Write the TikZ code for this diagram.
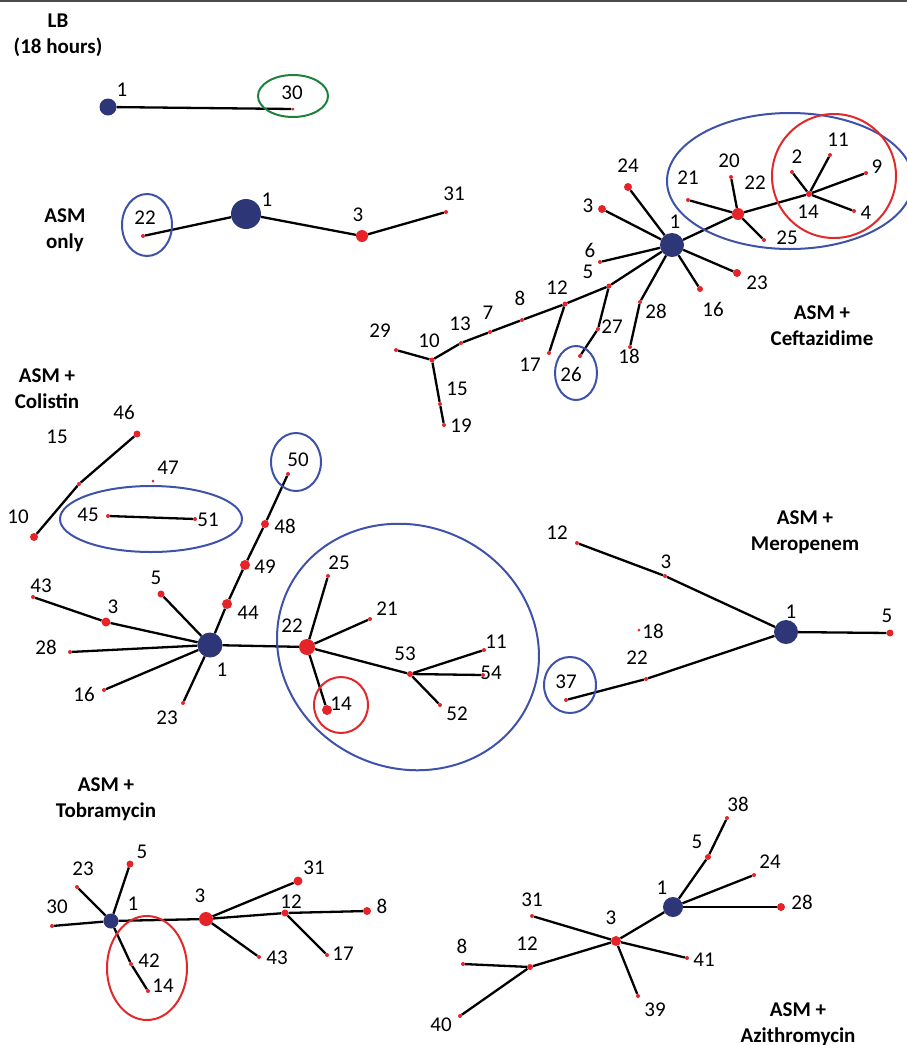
\documentclass[tikz,border=0pt]{standalone}
\usepackage{fontspec}
\setmainfont{Carlito}
\usepackage{tikz}
\usetikzlibrary{calc}

\definecolor{hubblue}{RGB}{45,55,120}
\definecolor{dotred}{RGB}{230,35,40}
\definecolor{ringblue}{RGB}{62,82,170}
\definecolor{ringred}{RGB}{225,40,42}
\definecolor{ringgreen}{RGB}{30,130,60}

\tikzset{
  hub/.style={circle, fill=hubblue, inner sep=0pt, minimum size=#1},
  hub/.default=20pt,
  rdot/.style={circle, fill=dotred, inner sep=0pt, minimum size=#1},
  rdot/.default=4pt,
  num/.style={inner sep=0pt, font=\fontsize{21}{23}\selectfont},
  ttl/.style={inner sep=0pt, align=center, font=\bfseries\fontsize{21}{26}\selectfont},
  link/.style={line width=2.3pt, black},
  ring/.style={line width=2pt}
}

\begin{document}
\begin{tikzpicture}[x=1pt, y=-1pt]
\useasboundingbox (0,0) rectangle (907,1045);
\draw[black!70, line width=2pt] (0,1) -- (907,1);

% LB
\node[ttl] (ttlLB) at (58,35) {LB\\(18 hours)};
\node[hub=17pt] (lb1) at (108,107) {};
\node[rdot=3pt] (lb30) at (293,109) {};
\node[num] (lb1t) at (122,90) {1};
\node[num] (lb30t) at (292,93) {30};
\draw[link] (lb1) -- (lb30);
\draw[ring, ringgreen] (293,96) ellipse [x radius=35pt, y radius=21pt];

% ASM only
\node[ttl] (ttlA) at (65,230) {ASM\\only};
\node[hub=30pt] (a1) at (246,214) {};
\node[rdot] (a22) at (143,236) {};
\node[rdot=12pt] (a3) at (362,236) {};
\node[rdot] (a31) at (446,212) {};
\node[num] (a1t) at (267,200) {1};
\node[num] (a22t) at (145,218) {22};
\node[num] (a3t) at (358,215) {3};
\node[num] (a31t) at (454,194) {31};
\draw[link] (a22) -- (a1);
\draw[link] (a1) -- (a3);
\draw[link] (a3) -- (a31);
\draw[ring, ringblue] (147,225) ellipse [x radius=25pt, y radius=31pt];

% ASM + Ceftazidime
\node[ttl] (ttlC) at (822,326) {ASM +\\Ceftazidime};
\node[hub=24pt] (c1) at (672,245) {};
\node[rdot=8pt] (c24) at (628,187) {};
\node[rdot=8pt] (c3) at (602,209) {};
\node[rdot] (c6) at (600,262) {};
\node[rdot=5pt] (c5) at (609,286) {};
\node[rdot=5pt] (c12) at (565,304) {};
\node[rdot] (c8) at (522,320) {};
\node[rdot] (c7) at (490,332) {};
\node[rdot] (c13) at (461,343) {};
\node[rdot=5pt] (c10) at (432,360) {};
\node[rdot] (c29) at (396,350) {};
\node[rdot] (c15) at (440,404) {};
\node[rdot] (c19) at (444,425) {};
\node[rdot] (c17) at (549,353) {};
\node[rdot] (c27) at (598,329) {};
\node[rdot] (c26) at (580,356) {};
\node[rdot] (c28) at (640,302) {};
\node[rdot] (c18) at (630,347) {};
\node[rdot=6pt] (c16) at (700,289) {};
\node[rdot=8pt] (c23) at (737,273) {};
\node[rdot=12pt] (c22) at (738,214) {};
\node[rdot] (c21) at (688,200) {};
\node[rdot] (c20) at (731,177) {};
\node[rdot] (c25) at (764,240) {};
\node[rdot=6pt] (c14) at (809,194) {};
\node[rdot] (c2) at (792,172) {};
\node[rdot] (c11) at (830,155) {};
\node[rdot] (c9) at (866,173) {};
\node[rdot] (c4) at (854,211) {};
\node[num] (c1t) at (675,222) {1};
\node[num] (c24t) at (628,166) {24};
\node[num] (c3t) at (588,206) {3};
\node[num] (c6t) at (590,250) {6};
\node[num] (c5t) at (588,272) {5};
\node[num] (c12t) at (557,288) {12};
\node[num] (c8t) at (520,298) {8};
\node[num] (c7t) at (488,313) {7};
\node[num] (c13t) at (460,324) {13};
\node[num] (c10t) at (429,341) {10};
\node[num] (c29t) at (380,331) {29};
\node[num] (c15t) at (457,389) {15};
\node[num] (c19t) at (461,426) {19};
\node[num] (c17t) at (530,365) {17};
\node[num] (c27t) at (612,327) {27};
\node[num] (c26t) at (571,374) {26};
\node[num] (c28t) at (656,311) {28};
\node[num] (c18t) at (629,356) {18};
\node[num] (c16t) at (713,309) {16};
\node[num] (c23t) at (757,283) {23};
\node[num] (c22t) at (755,183) {22};
\node[num] (c21t) at (688,178) {21};
\node[num] (c20t) at (729,161) {20};
\node[num] (c25t) at (787,238) {25};
\node[num] (c14t) at (808,212) {14};
\node[num] (c2t) at (797,157) {2};
\node[num] (c11t) at (838,140) {11};
\node[num] (c9t) at (877,167) {9};
\node[num] (c4t) at (866,213) {4};
\draw[link] (c1) -- (c24);
\draw[link] (c1) -- (c3);
\draw[link] (c1) -- (c6);
\draw[link] (c1) -- (c5);
\draw[link] (c5) -- (c12) -- (c8) -- (c7) -- (c13) -- (c10);
\draw[link] (c10) -- (c29);
\draw[link] (c10) -- (c15) -- (c19);
\draw[link] (c12) -- (c17);
\draw[link] (c5) -- (c27) -- (c26);
\draw[link] (c1) -- (c28) -- (c18);
\draw[link] (c1) -- (c16);
\draw[link] (c1) -- (c23);
\draw[link] (c1) -- (c22);
\draw[link] (c22) -- (c21);
\draw[link] (c22) -- (c20);
\draw[link] (c22) -- (c25);
\draw[link] (c22) -- (c14);
\draw[link] (c14) -- (c2);
\draw[link] (c14) -- (c11);
\draw[link] (c14) -- (c9);
\draw[link] (c14) -- (c4);
\draw[ring, ringblue] (790,181) ellipse [x radius=123pt, y radius=68pt];
\draw[ring, ringred] (834,176) ellipse [x radius=62pt, y radius=62pt];
\draw[ring, ringblue] (576,373) ellipse [x radius=21pt, y radius=27pt];

% ASM + Colistin
\node[ttl] (ttlK) at (47,389) {ASM +\\Colistin};
\node[hub=25pt] (k1) at (210,645) {};
\node[rdot=7pt] (k46) at (137,434) {};
\node[rdot] (k15) at (79,484) {};
\node[rdot=8pt] (k10) at (34,537) {};
\node[rdot=3pt] (k47) at (153,481) {};
\node[rdot] (k45) at (108,516) {};
\node[rdot] (k51) at (195,519) {};
\node[rdot] (k50) at (288,474) {};
\node[rdot=8pt] (k48) at (265,524) {};
\node[rdot=10pt] (k49) at (245,565) {};
\node[rdot=10pt] (k44) at (227,604) {};
\node[rdot=7pt] (k5) at (161,594) {};
\node[rdot] (k43) at (33,597) {};
\node[rdot=9pt] (k3) at (106,622) {};
\node[rdot] (k28) at (70,652) {};
\node[rdot] (k16) at (104,690) {};
\node[rdot] (k23) at (183,703) {};
\node[rdot=16pt] (k22) at (307,647) {};
\node[rdot] (k25) at (328,576) {};
\node[rdot] (k21) at (370,619) {};
\node[rdot=6pt] (k53) at (410,674) {};
\node[rdot] (k11) at (484,650) {};
\node[rdot] (k54) at (483,675) {};
\node[rdot] (k52) at (440,705) {};
\node[rdot=10pt] (k14) at (327,710) {};
\node[num] (k1t) at (222,670) {1};
\node[num] (k46t) at (124,412) {46};
\node[num] (k15t) at (57,437) {15};
\node[num] (k10t) at (18,517) {10};
\node[num] (k47t) at (168,468) {47};
\node[num] (k45t) at (88,515) {45};
\node[num] (k51t) at (208,520) {51};
\node[num] (k50t) at (298,460) {50};
\node[num] (k48t) at (285,526) {48};
\node[num] (k49t) at (265,567) {49};
\node[num] (k44t) at (248,613) {44};
\node[num] (k5t) at (156,578) {5};
\node[num] (k43t) at (41,586) {43};
\node[num] (k3t) at (113,607) {3};
\node[num] (k28t) at (46,647) {28};
\node[num] (k16t) at (84,694) {16};
\node[num] (k23t) at (167,718) {23};
\node[num] (k22t) at (292,626) {22};
\node[num] (k25t) at (339,563) {25};
\node[num] (k21t) at (387,609) {21};
\node[num] (k53t) at (405,654) {53};
\node[num] (k11t) at (496,642) {11};
\node[num] (k54t) at (491,673) {54};
\node[num] (k52t) at (457,714) {52};
\node[num] (k14t) at (341,704) {14};
\draw[link] (k46) -- (k15) -- (k10);
\draw[link] (k45) -- (k51);
\draw[link] (k1) -- (k44) -- (k49) -- (k48) -- (k50);
\draw[link] (k1) -- (k5);
\draw[link] (k1) -- (k3) -- (k43);
\draw[link] (k1) -- (k28);
\draw[link] (k1) -- (k16);
\draw[link] (k1) -- (k23);
\draw[link] (k1) -- (k22);
\draw[link] (k22) -- (k25);
\draw[link] (k22) -- (k21);
\draw[link] (k22) -- (k53);
\draw[link] (k53) -- (k11);
\draw[link] (k53) -- (k54);
\draw[link] (k53) -- (k52);
\draw[link] (k22) -- (k14);
\draw[ring, ringblue] (151,519) ellipse [x radius=91pt, y radius=33pt];
\draw[ring, ringblue] (296,462) ellipse [x radius=25pt, y radius=29pt];
\draw[ring, ringblue, rotate around={-25:(408,647)}] (408,647) ellipse [x radius=133pt, y radius=121pt];
\draw[ring, ringred] (341,705) ellipse [x radius=27pt, y radius=28pt];

% ASM + Meropenem
\node[ttl] (ttlM) at (805,532) {ASM +\\Meropenem};
\node[hub=24pt] (m1) at (786,632) {};
\node[rdot=7pt] (m5) at (890,633) {};
\node[rdot] (m3) at (665,576) {};
\node[rdot] (m12) at (577,543) {};
\node[rdot=3pt] (m18) at (639,630) {};
\node[rdot] (m22) at (646,679) {};
\node[rdot] (m37) at (566,700) {};
\node[num] (m1t) at (791,612) {1};
\node[num] (m5t) at (887,616) {5};
\node[num] (m3t) at (666,562) {3};
\node[num] (m12t) at (557,533) {12};
\node[num] (m18t) at (653,631) {18};
\node[num] (m22t) at (637,658) {22};
\node[num] (m37t) at (566,682) {37};
\draw[link] (m12) -- (m3) -- (m1);
\draw[link] (m1) -- (m5);
\draw[link] (m37) -- (m22) -- (m1);
\draw[ring, ringblue] (570,685) ellipse [x radius=26pt, y radius=28pt];

% ASM + Tobramycin
\node[ttl] (ttlT) at (106,799) {ASM +\\Tobramycin};
\node[hub=15pt] (t1) at (111,921) {};
\node[rdot=7pt] (t5) at (130,864) {};
\node[rdot] (t23) at (77,887) {};
\node[rdot] (t30) at (52,926) {};
\node[rdot] (t42) at (131,964) {};
\node[rdot] (t14) at (148,991) {};
\node[rdot=14pt] (t3) at (206,919) {};
\node[rdot=9pt] (t31) at (298,881) {};
\node[rdot=7pt] (t12) at (285,913) {};
\node[rdot=8pt] (t8) at (367,911) {};
\node[rdot] (t43) at (259,957) {};
\node[rdot] (t17) at (327,955) {};
\node[num] (t1t) at (133,904) {1};
\node[num] (t5t) at (142,852) {5};
\node[num] (t23t) at (83,869) {23};
\node[num] (t30t) at (57,907) {30};
\node[num] (t42t) at (149,961) {42};
\node[num] (t14t) at (163,986) {14};
\node[num] (t3t) at (200,896) {3};
\node[num] (t31t) at (314,868) {31};
\node[num] (t12t) at (291,902) {12};
\node[num] (t8t) at (382,906) {8};
\node[num] (t43t) at (277,958) {43};
\node[num] (t17t) at (343,954) {17};
\draw[link] (t30) -- (t1) -- (t3) -- (t12) -- (t8);
\draw[link] (t1) -- (t5);
\draw[link] (t23) -- (t1) -- (t42) -- (t14);
\draw[link] (t3) -- (t31);
\draw[link] (t3) -- (t43);
\draw[link] (t12) -- (t17);
\draw[ring, ringred] (147,968) ellipse [x radius=40pt, y radius=52pt];

% ASM + Azithromycin
\node[ttl] (ttlZ) at (798,1024) {ASM +\\Azithromycin};
\node[hub=20pt] (z1) at (673,907) {};
\node[rdot=6pt] (z5) at (708,857) {};
\node[rdot] (z38) at (727,818) {};
\node[rdot] (z24) at (754,875) {};
\node[rdot=8pt] (z28) at (781,907) {};
\node[rdot=10pt] (z3) at (616,941) {};
\node[rdot] (z31) at (532,916) {};
\node[rdot] (z41) at (687,958) {};
\node[rdot] (z39) at (638,996) {};
\node[rdot=6pt] (z12) at (530,967) {};
\node[rdot] (z8) at (463,964) {};
\node[rdot] (z40) at (460,1016) {};
\node[num] (z1t) at (662,888) {1};
\node[num] (z5t) at (697,842) {5};
\node[num] (z38t) at (738,804) {38};
\node[num] (z24t) at (770,862) {24};
\node[num] (z28t) at (802,902) {28};
\node[num] (z3t) at (611,918) {3};
\node[num] (z31t) at (532,900) {31};
\node[num] (z41t) at (704,960) {41};
\node[num] (z39t) at (655,1010) {39};
\node[num] (z12t) at (527,944) {12};
\node[num] (z8t) at (462,946) {8};
\node[num] (z40t) at (441,1025) {40};
\draw[link] (z1) -- (z5) -- (z38);
\draw[link] (z1) -- (z24);
\draw[link] (z1) -- (z28);
\draw[link] (z1) -- (z3);
\draw[link] (z3) -- (z31);
\draw[link] (z3) -- (z41);
\draw[link] (z3) -- (z39);
\draw[link] (z3) -- (z12);
\draw[link] (z12) -- (z8);
\draw[link] (z12) -- (z40);
\end{tikzpicture}
\end{document}
